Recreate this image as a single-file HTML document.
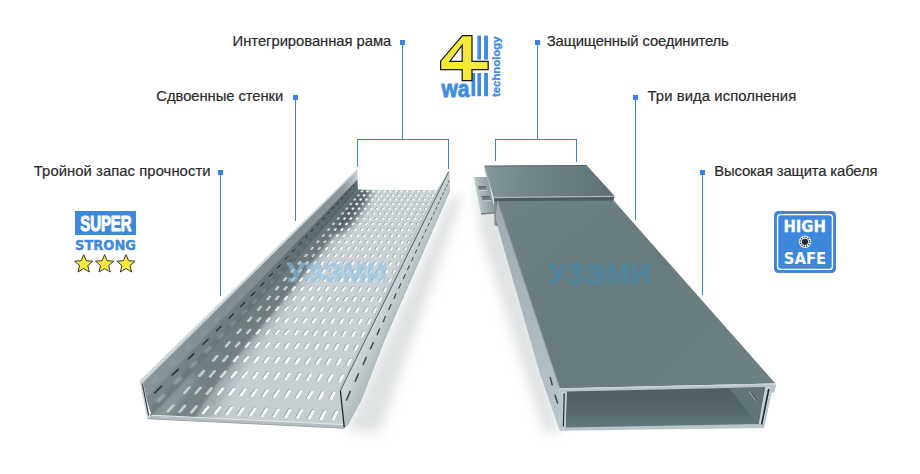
<!DOCTYPE html>
<html lang="ru"><head><meta charset="utf-8"><title>4 wall technology</title>
<style>html,body{margin:0;padding:0;background:#fff}body{width:920px;height:474px;overflow:hidden}svg{display:block}</style>
</head><body>
<svg width="920" height="474" viewBox="0 0 920 474">
<defs>
<filter id="b1" x="-50%" y="-50%" width="200%" height="200%"><feGaussianBlur stdDeviation="0.8"/></filter>
<filter id="b2" x="-50%" y="-50%" width="200%" height="200%"><feGaussianBlur stdDeviation="1.8"/></filter>
<filter id="b3" x="-50%" y="-50%" width="200%" height="200%"><feGaussianBlur stdDeviation="3"/></filter>
<filter id="b6" x="-50%" y="-50%" width="200%" height="200%"><feGaussianBlur stdDeviation="6"/></filter>
<filter id="b10" x="-50%" y="-50%" width="200%" height="200%"><feGaussianBlur stdDeviation="9"/></filter>
<linearGradient id="gFloor" x1="400" y1="190" x2="250" y2="420" gradientUnits="userSpaceOnUse">
 <stop offset="0" stop-color="#cbd3d6"/><stop offset="1" stop-color="#c5cdd1"/></linearGradient>
<linearGradient id="gSh" x1="358" y1="190" x2="180" y2="420" gradientUnits="userSpaceOnUse">
 <stop offset="0" stop-color="#596769"/><stop offset=".5" stop-color="#657275"/><stop offset="1" stop-color="#707d80"/></linearGradient>
<linearGradient id="gLW" x1="357" y1="180" x2="146" y2="398" gradientUnits="userSpaceOnUse">
 <stop offset="0" stop-color="#6f7c7f"/><stop offset=".45" stop-color="#87949700"/><stop offset="1" stop-color="#a3adb0"/></linearGradient>
<linearGradient id="gLWbase" x1="358" y1="0" x2="141" y2="0" gradientUnits="userSpaceOnUse">
 <stop offset="0" stop-color="#cdd4d7"/><stop offset=".025" stop-color="#b0babd"/><stop offset=".07" stop-color="#8d999c"/><stop offset=".25" stop-color="#7f8c8f"/><stop offset=".45" stop-color="#808d90"/><stop offset=".7" stop-color="#838f92"/><stop offset="1" stop-color="#889497"/></linearGradient>
<linearGradient id="gLWlow" x1="358" y1="0" x2="146" y2="0" gradientUnits="userSpaceOnUse">
 <stop offset="0" stop-color="#37454a" stop-opacity=".7"/><stop offset=".25" stop-color="#37454a" stop-opacity=".42"/><stop offset=".6" stop-color="#3d4a4d" stop-opacity=".24"/><stop offset="1" stop-color="#3d4a4d" stop-opacity=".18"/></linearGradient>
<linearGradient id="gRW" x1="395" y1="280" x2="408" y2="286" gradientUnits="userSpaceOnUse">
 <stop offset="0" stop-color="#cdd5d8"/><stop offset="1" stop-color="#b6c0c3"/></linearGradient>
<linearGradient id="gCover" x1="500" y1="200" x2="700" y2="420" gradientUnits="userSpaceOnUse">
 <stop offset="0" stop-color="#6e8184"/><stop offset=".5" stop-color="#687b7d"/><stop offset="1" stop-color="#6d8183"/></linearGradient>
<linearGradient id="gConn" x1="485" y1="170" x2="610" y2="195" gradientUnits="userSpaceOnUse">
 <stop offset="0" stop-color="#869a9c"/><stop offset=".3" stop-color="#74888a"/><stop offset=".65" stop-color="#697c7e"/><stop offset="1" stop-color="#5d7072"/></linearGradient>
<linearGradient id="gBr" x1="476" y1="195" x2="493" y2="192" gradientUnits="userSpaceOnUse">
 <stop offset="0" stop-color="#c6ced1"/><stop offset=".35" stop-color="#a9b4b7"/><stop offset="1" stop-color="#8a9699"/></linearGradient>
<linearGradient id="gSide" x1="0" y1="200" x2="0" y2="430" gradientUnits="userSpaceOnUse">
 <stop offset="0" stop-color="#9eaaad"/><stop offset="1" stop-color="#b9c5c9"/></linearGradient>
<linearGradient id="gInt" x1="0" y1="390" x2="0" y2="427" gradientUnits="userSpaceOnUse">
 <stop offset="0" stop-color="#4e6062"/><stop offset=".45" stop-color="#536567"/><stop offset=".8" stop-color="#5d7072"/><stop offset="1" stop-color="#627577"/></linearGradient>
<clipPath id="cFloor"><polygon points="356.0,189.8 436.7,190.3 337.2,391.5 340.4,390.5 343.9,424.6 149.6,415.2 256.0,303.0"/></clipPath>
<clipPath id="cLW"><polygon points="140.6,381.3 357.4,169.6 358.0,189.8 258.0,303.0 151.6,415.2"/></clipPath>
</defs>

<!-- ground shadows -->
<g opacity=".42">
<polygon points="452.0,193.0 462.0,198.0 380.0,432.0 347.0,430.0" fill="#b4b9bb" filter="url(#b6)"/>
<polygon points="476.0,182.0 496.0,200.0 560.0,432.0 544.0,432.0 480.0,232.0" fill="#b4b9bb" filter="url(#b6)"/>
</g>

<!-- LEFT TRAY -->
<polygon points="356.0,189.8 436.7,190.3 337.2,391.5 340.4,390.5 343.9,424.6 149.6,415.2 256.0,303.0" fill="url(#gFloor)"/>
<g clip-path="url(#cFloor)">
 <polygon points="356.0,186.0 366.0,189.0 347.0,222.0 321.0,256.0 290.0,296.0 262.0,335.0 242.0,364.0 226.0,390.0 212.0,420.0 130.0,432.0 250.0,300.0" fill="url(#gSh)" filter="url(#b6)" opacity=".45"/>
 <polygon points="356.0,186.0 363.0,189.0 342.0,225.0 326.0,244.0 300.0,278.0 275.0,310.0 252.0,337.0 235.0,359.0 217.0,383.0 203.0,404.0 194.0,420.0 130.0,432.0 250.0,300.0" fill="url(#gSh)" filter="url(#b2)"/>
 <polygon points="150.0,417.0 190.0,374.0 198.0,378.0 166.0,421.0" fill="#c3cbce" filter="url(#b3)" opacity=".45"/>
<polygon points="354.0,186.0 372.0,189.0 366.0,205.0 352.0,225.0 338.0,235.0 330.0,225.0" fill="#4b595d" filter="url(#b3)" opacity=".85"/>
<path d="M361.3 190.5L362.0 190.5L361.3 191.3L360.6 191.3ZM366.9 190.5L367.6 190.5L366.9 191.3L366.2 191.3ZM372.5 190.5L373.1 190.5L372.5 191.3L371.8 191.3ZM378.1 190.5L378.7 190.5L378.1 191.3L377.4 191.3ZM383.7 190.5L384.3 190.5L383.7 191.3L383.0 191.3ZM389.3 190.5L389.9 190.5L389.3 191.3L388.7 191.3ZM394.9 190.5L395.5 190.5L394.9 191.3L394.3 191.3ZM400.5 190.5L401.1 190.5L400.5 191.3L399.9 191.3ZM406.1 190.5L406.7 190.5L406.2 191.3L405.5 191.3ZM411.7 190.5L412.3 190.5L411.8 191.3L411.1 191.3ZM417.2 190.5L417.9 190.5L417.4 191.3L416.7 191.3ZM422.8 190.4L423.5 190.4L423.0 191.4L422.3 191.4ZM428.4 190.4L429.1 190.4L428.6 191.4L427.9 191.4ZM434.0 190.4L434.7 190.4L434.2 191.4L433.6 191.4ZM357.8 194.5L358.5 194.5L357.8 195.3L357.1 195.3ZM363.5 194.5L364.2 194.5L363.5 195.3L362.8 195.3ZM369.2 194.5L369.9 194.5L369.2 195.3L368.6 195.3ZM374.9 194.5L375.6 194.5L374.9 195.3L374.3 195.3ZM380.6 194.5L381.3 194.5L380.7 195.3L380.0 195.3ZM386.3 194.5L387.0 194.5L386.4 195.4L385.7 195.4ZM392.0 194.5L392.7 194.5L392.1 195.4L391.4 195.4ZM397.7 194.5L398.4 194.5L397.8 195.4L397.2 195.4ZM403.4 194.5L404.1 194.5L403.6 195.4L402.9 195.4ZM409.2 194.5L409.8 194.5L409.3 195.4L408.6 195.4ZM414.9 194.5L415.5 194.5L415.0 195.4L414.3 195.4ZM420.6 194.5L421.2 194.5L420.7 195.4L420.1 195.4ZM426.3 194.5L426.9 194.5L426.5 195.4L425.8 195.4ZM432.0 194.5L432.7 194.5L432.2 195.4L431.5 195.4ZM354.1 198.7L354.8 198.7L354.1 199.6L353.4 199.6ZM360.0 198.7L360.6 198.7L359.9 199.6L359.3 199.6ZM365.8 198.7L366.5 198.7L365.8 199.6L365.1 199.6ZM371.6 198.7L372.3 198.7L371.6 199.6L370.9 199.6ZM377.4 198.7L378.1 198.7L377.4 199.6L376.8 199.6ZM383.3 198.7L383.9 198.7L383.3 199.6L382.6 199.6ZM389.1 198.7L389.8 198.7L389.1 199.6L388.5 199.6ZM394.9 198.7L395.6 198.7L395.0 199.6L394.3 199.6ZM400.7 198.7L401.4 198.7L400.8 199.6L400.1 199.6ZM406.6 198.7L407.2 198.7L406.7 199.6L406.0 199.6ZM412.4 198.7L413.1 198.7L412.5 199.6L411.8 199.6ZM418.2 198.7L418.9 198.7L418.3 199.7L417.7 199.7ZM424.0 198.7L424.7 198.7L424.2 199.7L423.5 199.7ZM429.9 198.7L430.5 198.7L430.0 199.7L429.4 199.7ZM350.3 203.1L351.0 203.1L350.2 204.0L349.5 204.0ZM356.3 203.1L357.0 203.1L356.2 204.0L355.5 204.0ZM362.2 203.1L362.9 203.1L362.2 204.0L361.5 204.0ZM368.2 203.1L368.9 203.1L368.1 204.0L367.4 204.0ZM374.1 203.1L374.8 203.1L374.1 204.1L373.4 204.1ZM380.1 203.1L380.8 203.1L380.0 204.1L379.4 204.1ZM386.0 203.1L386.7 203.1L386.0 204.1L385.3 204.1ZM392.0 203.1L392.7 203.1L392.0 204.1L391.3 204.1ZM397.9 203.1L398.6 203.1L397.9 204.1L397.3 204.1ZM403.9 203.1L404.5 203.1L403.9 204.1L403.2 204.1ZM409.8 203.1L410.5 203.1L409.9 204.1L409.2 204.1ZM415.7 203.1L416.4 203.1L415.8 204.1L415.2 204.1ZM421.7 203.1L422.4 203.1L421.8 204.1L421.1 204.1ZM427.6 203.1L428.3 203.1L427.8 204.1L427.1 204.1ZM346.3 207.7L347.0 207.7L346.2 208.7L345.5 208.7ZM352.4 207.7L353.1 207.7L352.3 208.7L351.6 208.7ZM358.5 207.7L359.2 207.7L358.4 208.7L357.7 208.7ZM364.6 207.7L365.3 207.7L364.4 208.7L363.8 208.7ZM370.6 207.7L371.3 207.7L370.5 208.7L369.9 208.7ZM376.7 207.7L377.4 207.7L376.6 208.7L375.9 208.7ZM382.8 207.7L383.5 207.7L382.7 208.8L382.0 208.8ZM388.9 207.7L389.6 207.7L388.8 208.8L388.1 208.8ZM394.9 207.7L395.6 207.7L394.9 208.8L394.2 208.8ZM401.0 207.7L401.7 207.7L401.0 208.8L400.3 208.8ZM407.1 207.7L407.8 207.7L407.1 208.8L406.4 208.8ZM413.2 207.7L413.9 207.7L413.2 208.8L412.5 208.8ZM419.2 207.7L419.9 207.7L419.3 208.8L418.6 208.8ZM425.3 207.7L426.0 207.7L425.4 208.8L424.7 208.8ZM342.2 212.5L342.9 212.5L341.9 213.6L341.2 213.6ZM348.4 212.5L349.1 212.5L348.1 213.6L347.4 213.6ZM354.6 212.5L355.3 212.5L354.4 213.6L353.7 213.6ZM360.8 212.5L361.5 212.5L360.6 213.6L359.9 213.6ZM367.0 212.5L367.7 212.5L366.8 213.6L366.1 213.6ZM373.2 212.5L373.9 212.5L373.1 213.7L372.4 213.7ZM379.4 212.5L380.1 212.5L379.3 213.7L378.6 213.7ZM385.6 212.5L386.3 212.5L385.5 213.7L384.8 213.7ZM391.8 212.5L392.5 212.5L391.8 213.7L391.1 213.7ZM398.0 212.5L398.7 212.5L398.0 213.7L397.3 213.7ZM404.2 212.5L404.9 212.5L404.2 213.7L403.5 213.7ZM410.5 212.5L411.2 212.5L410.5 213.8L409.8 213.7ZM416.7 212.5L417.4 212.5L416.7 213.8L416.0 213.8ZM422.9 212.5L423.6 212.5L422.9 213.8L422.2 213.8ZM337.8 217.5L338.5 217.5L337.4 218.7L336.7 218.7ZM344.1 217.5L344.8 217.5L343.8 218.7L343.1 218.7ZM350.5 217.5L351.2 217.5L350.2 218.7L349.5 218.7ZM356.8 217.5L357.5 217.5L356.6 218.8L355.8 218.8ZM363.2 217.5L363.9 217.5L362.9 218.8L362.2 218.8ZM369.5 217.6L370.2 217.6L369.3 218.8L368.6 218.8ZM375.9 217.6L376.6 217.6L375.7 218.8L375.0 218.8ZM382.2 217.6L382.9 217.6L382.0 218.9L381.3 218.9ZM388.6 217.6L389.3 217.6L388.4 218.9L387.7 218.9ZM394.9 217.6L395.6 217.6L394.8 218.9L394.1 218.9ZM401.3 217.6L402.0 217.6L401.2 218.9L400.5 218.9ZM407.6 217.6L408.3 217.6L407.5 218.9L406.8 218.9ZM414.0 217.6L414.7 217.6L413.9 219.0L413.2 219.0ZM420.3 217.6L421.0 217.6L420.3 219.0L419.6 219.0ZM333.1 222.8L333.8 222.8L332.7 224.1L332.0 224.1ZM339.6 222.8L340.3 222.8L339.3 224.1L338.5 224.1ZM346.1 222.8L346.8 222.9L345.8 224.2L345.1 224.2ZM352.6 222.9L353.3 222.9L352.3 224.2L351.6 224.2ZM359.1 222.9L359.8 222.9L358.8 224.2L358.1 224.2ZM365.6 222.9L366.3 222.9L365.3 224.2L364.6 224.2ZM372.1 222.9L372.8 222.9L371.9 224.3L371.2 224.3ZM378.6 222.9L379.3 222.9L378.4 224.3L377.7 224.3ZM385.1 222.9L385.8 222.9L384.9 224.3L384.2 224.3ZM391.6 222.9L392.3 222.9L391.4 224.3L390.7 224.3ZM398.1 222.9L398.8 222.9L398.0 224.4L397.3 224.4ZM404.6 222.9L405.3 222.9L404.5 224.4L403.8 224.4ZM411.1 222.9L411.8 222.9L411.0 224.4L410.3 224.4ZM417.6 222.9L418.3 222.9L417.6 224.4L416.8 224.4ZM328.2 228.4L329.0 228.4L327.8 229.8L327.0 229.8ZM334.9 228.4L335.6 228.4L334.4 229.8L333.7 229.8ZM341.6 228.4L342.3 228.4L341.1 229.9L340.4 229.9ZM348.2 228.5L348.9 228.5L347.8 229.9L347.1 229.9ZM354.9 228.5L355.6 228.5L354.5 229.9L353.8 229.9ZM361.5 228.5L362.3 228.5L361.2 230.0L360.4 230.0ZM368.2 228.5L368.9 228.5L367.9 230.0L367.1 230.0ZM374.8 228.5L375.6 228.5L374.5 230.0L373.8 230.0ZM381.5 228.5L382.2 228.5L381.2 230.1L380.5 230.1ZM388.1 228.5L388.9 228.5L387.9 230.1L387.2 230.1ZM394.8 228.5L395.5 228.5L394.6 230.1L393.9 230.1ZM401.4 228.6L402.2 228.6L401.3 230.1L400.6 230.1ZM408.1 228.6L408.8 228.6L408.0 230.2L407.2 230.2ZM414.8 228.6L415.5 228.6L414.7 230.2L413.9 230.2ZM323.1 234.3L323.8 234.3L322.5 235.8L321.8 235.8ZM329.9 234.3L330.7 234.3L329.4 235.8L328.6 235.8ZM336.7 234.3L337.5 234.3L336.2 235.9L335.5 235.9ZM343.6 234.4L344.3 234.4L343.1 235.9L342.3 235.9ZM350.4 234.4L351.1 234.4L349.9 236.0L349.2 236.0ZM357.2 234.4L357.9 234.4L356.8 236.0L356.0 236.0ZM364.0 234.4L364.8 234.4L363.6 236.0L362.9 236.0ZM370.8 234.4L371.6 234.4L370.5 236.1L369.7 236.1ZM377.7 234.4L378.4 234.4L377.3 236.1L376.6 236.1ZM384.5 234.5L385.2 234.5L384.2 236.2L383.4 236.1ZM391.3 234.5L392.0 234.5L391.0 236.2L390.3 236.2ZM398.1 234.5L398.9 234.5L397.9 236.2L397.1 236.2ZM404.9 234.5L405.7 234.5L404.7 236.3L404.0 236.3ZM411.8 234.5L412.5 234.5L411.6 236.3L410.9 236.3ZM317.7 240.5L318.4 240.5L317.0 242.2L316.2 242.1ZM324.7 240.5L325.4 240.5L324.0 242.2L323.3 242.2ZM331.7 240.6L332.4 240.6L331.0 242.2L330.3 242.2ZM338.7 240.6L339.4 240.6L338.1 242.3L337.3 242.3ZM345.6 240.6L346.4 240.6L345.1 242.3L344.3 242.3ZM352.6 240.6L353.4 240.6L352.1 242.4L351.4 242.4ZM359.6 240.7L360.4 240.7L359.1 242.4L358.4 242.4ZM366.6 240.7L367.4 240.7L366.2 242.5L365.4 242.5ZM373.6 240.7L374.4 240.7L373.2 242.5L372.5 242.5ZM380.6 240.7L381.4 240.7L380.2 242.6L379.5 242.6ZM387.6 240.8L388.4 240.8L387.3 242.6L386.5 242.6ZM394.6 240.8L395.3 240.8L394.3 242.7L393.5 242.7ZM401.6 240.8L402.3 240.8L401.3 242.7L400.6 242.7ZM408.6 240.8L409.3 240.8L408.4 242.7L407.6 242.7ZM311.9 247.1L312.7 247.1L311.1 248.9L310.4 248.9ZM319.1 247.1L319.8 247.1L318.3 248.9L317.6 248.9ZM326.3 247.1L327.0 247.2L325.6 249.0L324.8 249.0ZM333.5 247.2L334.2 247.2L332.8 249.0L332.0 249.0ZM340.6 247.2L341.4 247.2L340.0 249.1L339.2 249.1ZM347.8 247.2L348.6 247.2L347.2 249.1L346.4 249.1ZM355.0 247.3L355.7 247.3L354.4 249.2L353.6 249.2ZM362.2 247.3L362.9 247.3L361.6 249.2L360.9 249.2ZM369.3 247.3L370.1 247.3L368.8 249.3L368.1 249.3ZM376.5 247.4L377.3 247.4L376.1 249.4L375.3 249.4ZM383.7 247.4L384.5 247.4L383.3 249.4L382.5 249.4ZM390.9 247.4L391.6 247.4L390.5 249.5L389.7 249.5ZM398.1 247.5L398.8 247.5L397.7 249.5L396.9 249.5ZM405.2 247.5L406.0 247.5L404.9 249.6L404.2 249.6ZM305.8 254.0L306.6 254.0L304.9 256.0L304.1 256.0ZM313.2 254.1L314.0 254.1L312.3 256.0L311.6 256.0ZM320.6 254.1L321.3 254.1L319.7 256.1L319.0 256.1ZM327.9 254.2L328.7 254.2L327.1 256.2L326.4 256.2ZM335.3 254.2L336.1 254.2L334.6 256.2L333.8 256.2ZM342.7 254.2L343.5 254.2L342.0 256.3L341.2 256.3ZM350.1 254.3L350.8 254.3L349.4 256.4L348.6 256.4ZM357.4 254.3L358.2 254.3L356.8 256.4L356.0 256.4ZM364.8 254.4L365.6 254.4L364.2 256.5L363.4 256.5ZM372.2 254.4L373.0 254.4L371.6 256.6L370.9 256.6ZM379.6 254.4L380.3 254.4L379.0 256.6L378.3 256.6ZM386.9 254.5L387.7 254.5L386.5 256.7L385.7 256.7ZM394.3 254.5L395.1 254.5L393.9 256.8L393.1 256.8ZM401.7 254.6L402.4 254.6L401.3 256.8L400.5 256.8Z" fill="#8d999c" stroke="#8d999c" stroke-width="1.65" stroke-linejoin="round" opacity=".7"/>
<path d="M299.3 261.4L300.1 261.4L298.3 263.5L297.5 263.5ZM306.9 261.5L307.7 261.5L305.9 263.6L305.1 263.6ZM314.5 261.5L315.3 261.5L313.5 263.7L312.8 263.7ZM322.1 261.6L322.9 261.6L321.2 263.7L320.4 263.7ZM329.7 261.6L330.5 261.6L328.8 263.8L328.0 263.8ZM337.3 261.7L338.0 261.7L336.4 263.9L335.6 263.9ZM344.8 261.7L345.6 261.7L344.0 264.0L343.3 264.0ZM352.4 261.8L353.2 261.8L351.7 264.1L350.9 264.1ZM360.0 261.8L360.8 261.8L359.3 264.1L358.5 264.1ZM367.6 261.9L368.4 261.9L366.9 264.2L366.1 264.2ZM375.2 261.9L375.9 261.9L374.5 264.3L373.8 264.3ZM382.7 262.0L383.5 262.0L382.2 264.4L381.4 264.4ZM390.3 262.0L391.1 262.0L389.8 264.5L389.0 264.4ZM397.9 262.1L398.7 262.1L397.4 264.5L396.6 264.5ZM292.4 269.3L293.2 269.3L291.3 271.5L290.5 271.5ZM300.3 269.3L301.0 269.3L299.1 271.6L298.3 271.6ZM308.1 269.4L308.9 269.4L307.0 271.7L306.2 271.7ZM315.9 269.4L316.7 269.4L314.8 271.8L314.0 271.8ZM323.7 269.5L324.5 269.5L322.7 271.9L321.9 271.9ZM331.5 269.6L332.3 269.6L330.5 272.0L329.7 272.0ZM339.3 269.6L340.1 269.6L338.3 272.1L337.6 272.1ZM347.1 269.7L347.9 269.7L346.2 272.2L345.4 272.2ZM354.9 269.7L355.7 269.8L354.0 272.3L353.3 272.3ZM362.7 269.8L363.5 269.8L361.9 272.4L361.1 272.4ZM370.5 269.9L371.3 269.9L369.8 272.5L369.0 272.5ZM378.3 269.9L379.1 269.9L377.6 272.6L376.8 272.6ZM386.1 270.0L386.9 270.0L385.5 272.7L384.7 272.6ZM393.9 270.1L394.7 270.1L393.3 272.7L392.5 272.7ZM285.1 277.6L285.9 277.6L283.8 280.1L283.0 280.1ZM293.2 277.7L294.0 277.7L291.9 280.2L291.0 280.2ZM301.2 277.8L302.0 277.8L299.9 280.3L299.1 280.3ZM309.2 277.8L310.0 277.8L308.0 280.4L307.2 280.4ZM317.3 277.9L318.1 277.9L316.1 280.5L315.3 280.5ZM325.3 278.0L326.1 278.0L324.2 280.6L323.4 280.6ZM333.4 278.1L334.2 278.1L332.3 280.7L331.5 280.7ZM341.4 278.1L342.2 278.1L340.4 280.9L339.6 280.8ZM349.4 278.2L350.2 278.2L348.5 281.0L347.7 281.0ZM357.5 278.3L358.3 278.3L356.6 281.1L355.8 281.1ZM365.5 278.4L366.3 278.4L364.6 281.2L363.8 281.2ZM373.5 278.4L374.3 278.4L372.7 281.3L371.9 281.3ZM381.6 278.5L382.4 278.5L380.8 281.4L380.0 281.4ZM389.6 278.6L390.4 278.6L388.9 281.5L388.1 281.5ZM277.3 286.5L278.1 286.5L275.8 289.2L274.9 289.2ZM285.6 286.6L286.4 286.6L284.1 289.3L283.3 289.3ZM293.9 286.7L294.7 286.7L292.4 289.5L291.6 289.5ZM302.2 286.8L303.0 286.8L300.8 289.6L300.0 289.6ZM310.4 286.9L311.3 286.9L309.1 289.7L308.3 289.7ZM318.7 287.0L319.6 287.0L317.5 289.9L316.6 289.8ZM327.0 287.1L327.9 287.1L325.8 290.0L325.0 290.0ZM335.3 287.1L336.1 287.2L334.1 290.1L333.3 290.1ZM343.6 287.2L344.4 287.2L342.5 290.2L341.7 290.2ZM351.9 287.3L352.7 287.3L350.8 290.4L350.0 290.4ZM360.2 287.4L361.0 287.4L359.2 290.5L358.4 290.5ZM368.5 287.5L369.3 287.5L367.5 290.6L366.7 290.6ZM376.8 287.6L377.6 287.6L375.9 290.8L375.1 290.8ZM385.0 287.7L385.9 287.7L384.2 290.9L383.4 290.9ZM268.9 296.0L269.7 296.0L267.2 299.0L266.3 299.0ZM277.4 296.1L278.3 296.1L275.8 299.1L274.9 299.1ZM286.0 296.2L286.8 296.3L284.4 299.3L283.6 299.3ZM294.6 296.4L295.4 296.4L293.0 299.4L292.2 299.4ZM303.1 296.5L304.0 296.5L301.6 299.6L300.8 299.6ZM311.7 296.6L312.5 296.6L310.2 299.7L309.4 299.7ZM320.3 296.7L321.1 296.7L318.9 299.9L318.0 299.9ZM328.8 296.8L329.7 296.8L327.5 300.0L326.6 300.0ZM337.4 296.9L338.2 296.9L336.1 300.2L335.3 300.2ZM345.9 297.0L346.8 297.0L344.7 300.3L343.9 300.3ZM354.5 297.1L355.3 297.1L353.3 300.5L352.5 300.5ZM363.0 297.2L363.9 297.3L362.0 300.7L361.1 300.6ZM371.6 297.3L372.4 297.4L370.6 300.8L369.8 300.8ZM380.1 297.5L381.0 297.5L379.2 301.0L378.4 300.9ZM259.9 306.2L260.7 306.2L257.9 309.4L257.1 309.4ZM268.7 306.3L269.6 306.4L266.8 309.6L266.0 309.6ZM277.6 306.5L278.4 306.5L275.8 309.8L274.9 309.8ZM286.4 306.6L287.3 306.6L284.7 310.0L283.8 310.0ZM295.3 306.7L296.1 306.8L293.6 310.2L292.7 310.1ZM304.1 306.9L305.0 306.9L302.5 310.3L301.6 310.3ZM313.0 307.0L313.8 307.0L311.4 310.5L310.5 310.5ZM321.8 307.1L322.7 307.2L320.3 310.7L319.5 310.7ZM330.7 307.3L331.5 307.3L329.2 310.9L328.4 310.9ZM339.5 307.4L340.4 307.4L338.1 311.1L337.3 311.0ZM348.4 307.5L349.2 307.6L347.1 311.2L346.2 311.2ZM357.2 307.7L358.1 307.7L356.0 311.4L355.1 311.4ZM366.1 307.8L366.9 307.8L364.9 311.6L364.1 311.6ZM374.9 308.0L375.8 308.0L373.8 311.8L373.0 311.8ZM250.2 317.2L251.1 317.2L248.0 320.7L247.1 320.7ZM259.4 317.3L260.2 317.3L257.2 320.9L256.4 320.9ZM268.5 317.5L269.4 317.5L266.5 321.1L265.6 321.1ZM277.7 317.6L278.6 317.7L275.7 321.3L274.8 321.3ZM286.9 317.8L287.7 317.8L284.9 321.5L284.0 321.5ZM296.0 318.0L296.9 318.0L294.1 321.8L293.3 321.7ZM305.2 318.1L306.0 318.1L303.4 322.0L302.5 322.0ZM314.3 318.3L315.2 318.3L312.6 322.2L311.7 322.2ZM323.5 318.4L324.4 318.5L321.8 322.4L321.0 322.4ZM332.7 318.6L333.5 318.6L331.1 322.6L330.2 322.6ZM341.8 318.8L342.7 318.8L340.3 322.8L339.4 322.8ZM351.0 318.9L351.8 318.9L349.5 323.0L348.7 323.0ZM360.1 319.1L361.0 319.1L358.8 323.2L357.9 323.2ZM369.3 319.3L370.1 319.3L368.0 323.4L367.1 323.4ZM239.8 328.9L240.6 329.0L237.3 332.8L236.4 332.8ZM249.3 329.1L250.1 329.2L246.8 333.1L246.0 333.1ZM258.8 329.3L259.6 329.4L256.4 333.3L255.5 333.3ZM268.3 329.5L269.1 329.5L266.0 333.6L265.1 333.6ZM277.8 329.7L278.6 329.7L275.5 333.8L274.7 333.8ZM287.3 329.9L288.1 329.9L285.1 334.1L284.2 334.1ZM296.7 330.1L297.6 330.1L294.7 334.3L293.8 334.3ZM306.2 330.3L307.1 330.3L304.3 334.6L303.4 334.6ZM315.7 330.5L316.6 330.5L313.8 334.8L313.0 334.8ZM325.2 330.7L326.1 330.7L323.4 335.1L322.5 335.1ZM334.7 330.9L335.6 330.9L333.0 335.3L332.1 335.3ZM344.2 331.1L345.1 331.1L342.6 335.6L341.7 335.5ZM353.7 331.3L354.6 331.3L352.2 335.8L351.3 335.8ZM363.2 331.5L364.1 331.5L361.7 336.1L360.9 336.0ZM228.5 341.7L229.4 341.7L225.7 346.0L224.8 345.9ZM238.3 341.9L239.2 341.9L235.6 346.3L234.7 346.2ZM248.2 342.1L249.1 342.2L245.5 346.5L244.6 346.5ZM258.0 342.4L259.0 342.4L255.5 346.8L254.6 346.8ZM267.9 342.6L268.8 342.6L265.4 347.1L264.5 347.1ZM277.8 342.8L278.7 342.9L275.4 347.4L274.4 347.4ZM287.6 343.1L288.5 343.1L285.3 347.7L284.4 347.7ZM297.5 343.3L298.4 343.3L295.2 348.0L294.3 348.0ZM307.3 343.5L308.2 343.5L305.2 348.3L304.3 348.3ZM317.2 343.8L318.1 343.8L315.1 348.6L314.2 348.6ZM327.0 344.0L328.0 344.0L325.1 348.9L324.2 348.9ZM336.9 344.2L337.8 344.2L335.0 349.2L334.1 349.1ZM346.7 344.5L347.7 344.5L345.0 349.5L344.1 349.4ZM356.6 344.7L357.5 344.7L354.9 349.8L354.0 349.7Z" fill="#8d999c" stroke="#8d999c" stroke-width="1.90" stroke-linejoin="round" opacity=".7"/>
<path d="M216.2 355.5L217.1 355.5L213.0 360.2L212.1 360.2ZM226.4 355.7L227.4 355.8L223.4 360.5L222.4 360.5ZM236.7 356.0L237.6 356.0L233.7 360.9L232.8 360.9ZM247.0 356.3L247.9 356.3L244.1 361.2L243.1 361.2ZM257.2 356.6L258.2 356.6L254.4 361.6L253.5 361.5ZM267.5 356.8L268.4 356.9L264.7 361.9L263.8 361.9ZM277.7 357.1L278.7 357.1L275.1 362.3L274.2 362.2ZM288.0 357.4L288.9 357.4L285.4 362.6L284.5 362.6ZM298.2 357.7L299.2 357.7L295.8 362.9L294.8 362.9ZM308.5 358.0L309.4 358.0L306.1 363.3L305.2 363.3ZM318.7 358.2L319.7 358.3L316.5 363.6L315.6 363.6ZM329.0 358.5L329.9 358.5L326.8 364.0L325.9 363.9ZM339.2 358.8L340.1 358.8L337.2 364.3L336.3 364.3ZM349.4 359.1L350.4 359.1L347.6 364.7L346.6 364.6ZM202.8 370.4L203.8 370.5L199.3 375.7L198.3 375.6ZM213.5 370.8L214.5 370.8L210.0 376.1L209.1 376.0ZM224.2 371.1L225.2 371.1L220.8 376.5L219.9 376.5ZM234.9 371.4L235.9 371.5L231.6 376.9L230.6 376.9ZM245.6 371.8L246.5 371.8L242.4 377.3L241.4 377.3ZM256.3 372.1L257.2 372.1L253.2 377.7L252.2 377.7ZM266.9 372.4L267.9 372.5L263.9 378.1L263.0 378.1ZM277.6 372.8L278.6 372.8L274.7 378.5L273.8 378.5ZM288.3 373.1L289.3 373.1L285.5 378.9L284.6 378.9ZM299.0 373.4L299.9 373.5L296.3 379.3L295.4 379.3ZM309.7 373.8L310.6 373.8L307.1 379.7L306.1 379.7ZM320.3 374.1L321.3 374.1L317.9 380.1L316.9 380.1ZM331.0 374.4L332.0 374.5L328.7 380.6L327.7 380.5ZM341.7 374.8L342.6 374.8L339.5 381.0L338.5 380.9ZM188.2 386.8L189.2 386.8L184.2 392.6L183.2 392.5ZM199.4 387.2L200.4 387.2L195.4 393.1L194.5 393.0ZM210.5 387.6L211.5 387.6L206.7 393.5L205.7 393.5ZM221.7 388.0L222.7 388.0L218.0 394.0L217.0 394.0ZM232.9 388.4L233.8 388.4L229.2 394.5L228.2 394.5ZM244.0 388.8L245.0 388.8L240.5 395.0L239.5 395.0ZM255.2 389.2L256.1 389.2L251.7 395.5L250.8 395.4ZM266.3 389.6L267.3 389.6L263.0 396.0L262.0 395.9ZM277.5 390.0L278.4 390.0L274.3 396.4L273.3 396.4ZM288.6 390.4L289.6 390.4L285.6 396.9L284.6 396.9ZM299.7 390.8L300.7 390.8L296.8 397.4L295.8 397.4ZM310.9 391.2L311.9 391.2L308.1 397.9L307.1 397.8ZM322.0 391.6L323.0 391.6L319.4 398.4L318.4 398.3ZM333.2 392.0L334.1 392.0L330.7 398.8L329.7 398.8ZM172.2 404.6L173.2 404.7L167.6 411.1L166.6 411.1ZM183.9 405.1L184.9 405.1L179.4 411.7L178.4 411.6ZM195.5 405.6L196.5 405.6L191.2 412.3L190.1 412.2ZM207.2 406.1L208.2 406.1L202.9 412.8L201.9 412.8ZM218.9 406.5L219.9 406.6L214.7 413.4L213.7 413.4ZM230.5 407.0L231.6 407.1L226.5 414.0L225.5 413.9ZM242.2 407.5L243.2 407.6L238.3 414.6L237.3 414.5ZM253.9 408.0L254.9 408.0L250.1 415.1L249.1 415.1ZM265.5 408.5L266.6 408.5L261.9 415.7L260.9 415.7ZM277.2 409.0L278.2 409.0L273.7 416.3L272.7 416.2ZM288.9 409.4L289.9 409.5L285.5 416.8L284.5 416.8ZM300.5 409.9L301.5 410.0L297.3 417.4L296.3 417.4ZM312.2 410.4L313.2 410.5L309.2 418.0L308.1 417.9ZM323.8 410.9L324.8 410.9L321.0 418.6L320.0 418.5ZM335.5 411.4L336.5 411.4L332.8 419.1L331.8 419.1Z" fill="#8d999c" stroke="#8d999c" stroke-width="2.15" stroke-linejoin="round" opacity=".7"/>
<path d="M362.0 191.0L362.7 191.0L362.0 191.7L361.3 191.7ZM367.6 191.0L368.3 191.0L367.6 191.7L366.9 191.7ZM373.2 190.9L373.8 190.9L373.2 191.8L372.5 191.8ZM378.8 190.9L379.4 190.9L378.8 191.8L378.1 191.8ZM384.4 190.9L385.0 190.9L384.4 191.8L383.7 191.8ZM390.0 190.9L390.6 190.9L390.0 191.8L389.4 191.8ZM395.6 190.9L396.2 190.9L395.6 191.8L395.0 191.8ZM401.2 190.9L401.8 190.9L401.2 191.8L400.6 191.8ZM406.8 190.9L407.4 190.9L406.9 191.8L406.2 191.8ZM412.4 190.9L413.0 190.9L412.5 191.8L411.8 191.8ZM417.9 190.9L418.6 190.9L418.1 191.8L417.4 191.8ZM423.5 190.9L424.2 190.9L423.7 191.8L423.0 191.8ZM429.1 190.9L429.8 190.9L429.3 191.8L428.6 191.8ZM434.7 190.9L435.4 190.9L434.9 191.8L434.3 191.8ZM358.5 195.0L359.2 195.0L358.5 195.8L357.8 195.8ZM364.2 195.0L364.9 195.0L364.2 195.8L363.5 195.8ZM369.9 195.0L370.6 195.0L369.9 195.8L369.3 195.8ZM375.6 195.0L376.3 195.0L375.6 195.8L375.0 195.8ZM381.3 195.0L382.0 195.0L381.4 195.8L380.7 195.8ZM387.0 195.0L387.7 195.0L387.1 195.8L386.4 195.8ZM392.7 195.0L393.4 195.0L392.8 195.8L392.1 195.8ZM398.4 195.0L399.1 195.0L398.5 195.8L397.9 195.8ZM404.1 195.0L404.8 195.0L404.3 195.8L403.6 195.8ZM409.9 195.0L410.5 195.0L410.0 195.8L409.3 195.8ZM415.6 194.9L416.2 194.9L415.7 195.8L415.0 195.8ZM421.3 194.9L421.9 194.9L421.4 195.8L420.8 195.8ZM427.0 194.9L427.6 194.9L427.2 195.8L426.5 195.8ZM432.7 194.9L433.4 194.9L432.9 195.8L432.2 195.8ZM354.8 199.2L355.5 199.2L354.8 200.0L354.1 200.0ZM360.7 199.2L361.3 199.2L360.6 200.0L360.0 200.0ZM366.5 199.2L367.2 199.2L366.5 200.0L365.8 200.0ZM372.3 199.2L373.0 199.2L372.3 200.0L371.6 200.0ZM378.1 199.2L378.8 199.2L378.1 200.1L377.5 200.0ZM384.0 199.2L384.6 199.2L384.0 200.1L383.3 200.1ZM389.8 199.1L390.5 199.1L389.8 200.1L389.2 200.1ZM395.6 199.1L396.3 199.1L395.7 200.1L395.0 200.1ZM401.4 199.1L402.1 199.1L401.5 200.1L400.8 200.1ZM407.3 199.1L407.9 199.1L407.4 200.1L406.7 200.1ZM413.1 199.1L413.8 199.1L413.2 200.1L412.5 200.1ZM418.9 199.1L419.6 199.1L419.0 200.1L418.4 200.1ZM424.7 199.1L425.4 199.1L424.9 200.1L424.2 200.1ZM430.6 199.1L431.2 199.1L430.7 200.1L430.1 200.1ZM351.0 203.5L351.7 203.5L350.9 204.5L350.2 204.5ZM357.0 203.5L357.7 203.5L356.9 204.5L356.2 204.5ZM362.9 203.5L363.6 203.5L362.9 204.5L362.2 204.5ZM368.9 203.5L369.6 203.5L368.8 204.5L368.1 204.5ZM374.8 203.5L375.5 203.5L374.8 204.5L374.1 204.5ZM380.8 203.5L381.5 203.5L380.7 204.5L380.1 204.5ZM386.7 203.5L387.4 203.5L386.7 204.5L386.0 204.5ZM392.7 203.5L393.4 203.5L392.7 204.5L392.0 204.5ZM398.6 203.5L399.3 203.5L398.6 204.5L398.0 204.5ZM404.6 203.5L405.2 203.5L404.6 204.6L403.9 204.6ZM410.5 203.5L411.2 203.5L410.6 204.6L409.9 204.6ZM416.4 203.5L417.1 203.5L416.5 204.6L415.9 204.6ZM422.4 203.5L423.1 203.5L422.5 204.6L421.8 204.6ZM428.3 203.5L429.0 203.5L428.5 204.6L427.8 204.6ZM347.0 208.1L347.7 208.1L346.9 209.1L346.2 209.1ZM353.1 208.1L353.8 208.1L353.0 209.1L352.3 209.1ZM359.2 208.1L359.9 208.1L359.1 209.2L358.4 209.2ZM365.3 208.1L366.0 208.1L365.1 209.2L364.5 209.2ZM371.3 208.1L372.0 208.1L371.2 209.2L370.6 209.2ZM377.4 208.1L378.1 208.1L377.3 209.2L376.6 209.2ZM383.5 208.1L384.2 208.1L383.4 209.2L382.7 209.2ZM389.6 208.1L390.3 208.1L389.5 209.2L388.8 209.2ZM395.6 208.1L396.3 208.1L395.6 209.2L394.9 209.2ZM401.7 208.1L402.4 208.1L401.7 209.2L401.0 209.2ZM407.8 208.1L408.5 208.1L407.8 209.3L407.1 209.3ZM413.9 208.1L414.6 208.1L413.9 209.3L413.2 209.3ZM419.9 208.1L420.6 208.1L420.0 209.3L419.3 209.3ZM426.0 208.1L426.7 208.1L426.1 209.3L425.4 209.3ZM342.9 212.9L343.6 212.9L342.6 214.0L341.9 214.0ZM349.1 212.9L349.8 212.9L348.8 214.0L348.1 214.0ZM355.3 212.9L356.0 212.9L355.1 214.1L354.4 214.1ZM361.5 212.9L362.2 212.9L361.3 214.1L360.6 214.1ZM367.7 212.9L368.4 212.9L367.5 214.1L366.8 214.1ZM373.9 212.9L374.6 212.9L373.8 214.1L373.1 214.1ZM380.1 212.9L380.8 212.9L380.0 214.1L379.3 214.1ZM386.3 212.9L387.0 212.9L386.2 214.1L385.5 214.1ZM392.5 212.9L393.2 212.9L392.5 214.2L391.8 214.1ZM398.7 212.9L399.4 212.9L398.7 214.2L398.0 214.2ZM404.9 212.9L405.6 212.9L404.9 214.2L404.2 214.2ZM411.2 212.9L411.9 212.9L411.2 214.2L410.5 214.2ZM417.4 213.0L418.1 213.0L417.4 214.2L416.7 214.2ZM423.6 213.0L424.3 213.0L423.6 214.2L422.9 214.2ZM338.5 218.0L339.2 218.0L338.1 219.2L337.4 219.2ZM344.8 218.0L345.5 218.0L344.5 219.2L343.8 219.2ZM351.2 218.0L351.9 218.0L350.9 219.2L350.2 219.2ZM357.5 218.0L358.2 218.0L357.3 219.2L356.5 219.2ZM363.9 218.0L364.6 218.0L363.6 219.2L362.9 219.2ZM370.2 218.0L370.9 218.0L370.0 219.3L369.3 219.3ZM376.6 218.0L377.3 218.0L376.4 219.3L375.7 219.3ZM382.9 218.0L383.6 218.0L382.7 219.3L382.0 219.3ZM389.3 218.0L390.0 218.0L389.1 219.3L388.4 219.3ZM395.6 218.0L396.3 218.0L395.5 219.3L394.8 219.3ZM402.0 218.0L402.7 218.0L401.9 219.4L401.2 219.4ZM408.3 218.0L409.0 218.0L408.2 219.4L407.5 219.4ZM414.7 218.0L415.4 218.0L414.6 219.4L413.9 219.4ZM421.0 218.0L421.7 218.0L421.0 219.4L420.3 219.4ZM333.8 223.3L334.5 223.3L333.4 224.6L332.7 224.6ZM340.3 223.3L341.0 223.3L340.0 224.6L339.2 224.6ZM346.8 223.3L347.5 223.3L346.5 224.6L345.8 224.6ZM353.3 223.3L354.0 223.3L353.0 224.6L352.3 224.6ZM359.8 223.3L360.5 223.3L359.5 224.7L358.8 224.7ZM366.3 223.3L367.0 223.3L366.0 224.7L365.3 224.7ZM372.8 223.3L373.5 223.3L372.6 224.7L371.9 224.7ZM379.3 223.3L380.0 223.3L379.1 224.7L378.4 224.7ZM385.8 223.3L386.5 223.3L385.6 224.8L384.9 224.8ZM392.3 223.4L393.0 223.4L392.1 224.8L391.4 224.8ZM398.8 223.4L399.5 223.4L398.7 224.8L398.0 224.8ZM405.3 223.4L406.0 223.4L405.2 224.8L404.5 224.8ZM411.8 223.4L412.5 223.4L411.7 224.9L411.0 224.9ZM418.3 223.4L419.0 223.4L418.3 224.9L417.5 224.9ZM328.9 228.9L329.7 228.9L328.5 230.3L327.7 230.3ZM335.6 228.9L336.3 228.9L335.1 230.3L334.4 230.3ZM342.3 228.9L343.0 228.9L341.8 230.3L341.1 230.3ZM348.9 228.9L349.6 228.9L348.5 230.3L347.8 230.3ZM355.6 228.9L356.3 228.9L355.2 230.4L354.5 230.4ZM362.2 228.9L363.0 228.9L361.9 230.4L361.1 230.4ZM368.9 228.9L369.6 228.9L368.6 230.4L367.8 230.4ZM375.5 229.0L376.3 229.0L375.2 230.5L374.5 230.5ZM382.2 229.0L382.9 229.0L381.9 230.5L381.2 230.5ZM388.8 229.0L389.6 229.0L388.6 230.5L387.9 230.5ZM395.5 229.0L396.2 229.0L395.3 230.6L394.6 230.6ZM402.1 229.0L402.9 229.0L402.0 230.6L401.3 230.6ZM408.8 229.0L409.5 229.0L408.7 230.6L407.9 230.6ZM415.5 229.0L416.2 229.0L415.4 230.7L414.6 230.7ZM323.8 234.8L324.5 234.8L323.2 236.3L322.5 236.3ZM330.6 234.8L331.4 234.8L330.1 236.3L329.3 236.3ZM337.4 234.8L338.2 234.8L336.9 236.3L336.2 236.3ZM344.3 234.8L345.0 234.8L343.8 236.4L343.0 236.4ZM351.1 234.8L351.8 234.8L350.6 236.4L349.9 236.4ZM357.9 234.8L358.6 234.8L357.5 236.4L356.7 236.4ZM364.7 234.9L365.5 234.9L364.3 236.5L363.6 236.5ZM371.5 234.9L372.3 234.9L371.2 236.5L370.4 236.5ZM378.4 234.9L379.1 234.9L378.0 236.6L377.3 236.6ZM385.2 234.9L385.9 234.9L384.9 236.6L384.1 236.6ZM392.0 234.9L392.7 234.9L391.7 236.6L391.0 236.6ZM398.8 234.9L399.6 234.9L398.6 236.7L397.8 236.7ZM405.6 235.0L406.4 235.0L405.4 236.7L404.7 236.7ZM412.5 235.0L413.2 235.0L412.3 236.8L411.6 236.8ZM318.4 241.0L319.1 241.0L317.7 242.6L316.9 242.6ZM325.4 241.0L326.1 241.0L324.7 242.6L324.0 242.6ZM332.4 241.0L333.1 241.0L331.7 242.7L331.0 242.7ZM339.4 241.0L340.1 241.0L338.8 242.7L338.0 242.7ZM346.3 241.1L347.1 241.1L345.8 242.8L345.0 242.8ZM353.3 241.1L354.1 241.1L352.8 242.8L352.1 242.8ZM360.3 241.1L361.1 241.1L359.8 242.9L359.1 242.9ZM367.3 241.1L368.1 241.1L366.9 242.9L366.1 242.9ZM374.3 241.2L375.1 241.2L373.9 243.0L373.2 243.0ZM381.3 241.2L382.1 241.2L380.9 243.0L380.2 243.0ZM388.3 241.2L389.1 241.2L388.0 243.1L387.2 243.1ZM395.3 241.2L396.0 241.2L395.0 243.1L394.2 243.1ZM402.3 241.2L403.0 241.3L402.0 243.2L401.3 243.1ZM409.3 241.3L410.0 241.3L409.1 243.2L408.3 243.2ZM312.6 247.5L313.4 247.5L311.8 249.3L311.1 249.3ZM319.8 247.6L320.5 247.6L319.0 249.4L318.3 249.4ZM327.0 247.6L327.7 247.6L326.3 249.4L325.5 249.4ZM334.2 247.6L334.9 247.6L333.5 249.5L332.7 249.5ZM341.3 247.7L342.1 247.7L340.7 249.5L339.9 249.5ZM348.5 247.7L349.3 247.7L347.9 249.6L347.1 249.6ZM355.7 247.7L356.4 247.7L355.1 249.6L354.3 249.6ZM362.9 247.8L363.6 247.8L362.3 249.7L361.6 249.7ZM370.0 247.8L370.8 247.8L369.5 249.8L368.8 249.7ZM377.2 247.8L378.0 247.8L376.8 249.8L376.0 249.8ZM384.4 247.8L385.2 247.8L384.0 249.9L383.2 249.9ZM391.6 247.9L392.3 247.9L391.2 249.9L390.4 249.9ZM398.8 247.9L399.5 247.9L398.4 250.0L397.6 250.0ZM405.9 247.9L406.7 247.9L405.6 250.0L404.9 250.0ZM306.5 254.5L307.3 254.5L305.6 256.4L304.8 256.4ZM313.9 254.5L314.7 254.5L313.0 256.5L312.3 256.5ZM321.3 254.6L322.0 254.6L320.4 256.6L319.7 256.5ZM328.6 254.6L329.4 254.6L327.8 256.6L327.1 256.6ZM336.0 254.6L336.8 254.7L335.3 256.7L334.5 256.7ZM343.4 254.7L344.2 254.7L342.7 256.7L341.9 256.7ZM350.8 254.7L351.5 254.7L350.1 256.8L349.3 256.8ZM358.1 254.8L358.9 254.8L357.5 256.9L356.7 256.9ZM365.5 254.8L366.3 254.8L364.9 256.9L364.1 256.9ZM372.9 254.8L373.7 254.8L372.3 257.0L371.6 257.0ZM380.3 254.9L381.0 254.9L379.7 257.1L379.0 257.1ZM387.6 254.9L388.4 254.9L387.2 257.1L386.4 257.1ZM395.0 255.0L395.8 255.0L394.6 257.2L393.8 257.2ZM402.4 255.0L403.1 255.0L402.0 257.3L401.2 257.3Z" fill="#fafbfb" stroke="#fafbfb" stroke-width="1.25" stroke-linejoin="round"/>
<path d="M300.0 261.9L300.8 261.9L299.0 264.0L298.2 264.0ZM307.6 261.9L308.4 261.9L306.6 264.0L305.8 264.0ZM315.2 262.0L316.0 262.0L314.2 264.1L313.5 264.1ZM322.8 262.0L323.6 262.0L321.9 264.2L321.1 264.2ZM330.4 262.1L331.2 262.1L329.5 264.3L328.7 264.3ZM338.0 262.1L338.7 262.1L337.1 264.4L336.3 264.3ZM345.5 262.2L346.3 262.2L344.7 264.4L344.0 264.4ZM353.1 262.2L353.9 262.2L352.4 264.5L351.6 264.5ZM360.7 262.3L361.5 262.3L360.0 264.6L359.2 264.6ZM368.3 262.3L369.1 262.3L367.6 264.7L366.8 264.7ZM375.9 262.4L376.6 262.4L375.2 264.7L374.5 264.7ZM383.4 262.4L384.2 262.4L382.9 264.8L382.1 264.8ZM391.0 262.5L391.8 262.5L390.5 264.9L389.7 264.9ZM398.6 262.5L399.4 262.5L398.1 265.0L397.3 265.0ZM293.1 269.7L293.9 269.7L292.0 272.0L291.2 272.0ZM301.0 269.8L301.7 269.8L299.8 272.1L299.0 272.1ZM308.8 269.8L309.6 269.8L307.7 272.2L306.9 272.2ZM316.6 269.9L317.4 269.9L315.5 272.3L314.7 272.3ZM324.4 270.0L325.2 270.0L323.4 272.4L322.6 272.4ZM332.2 270.0L333.0 270.0L331.2 272.5L330.4 272.4ZM340.0 270.1L340.8 270.1L339.0 272.5L338.3 272.5ZM347.8 270.1L348.6 270.1L346.9 272.6L346.1 272.6ZM355.6 270.2L356.4 270.2L354.7 272.7L354.0 272.7ZM363.4 270.3L364.2 270.3L362.6 272.8L361.8 272.8ZM371.2 270.3L372.0 270.3L370.5 272.9L369.7 272.9ZM379.0 270.4L379.8 270.4L378.3 273.0L377.5 273.0ZM386.8 270.4L387.6 270.4L386.2 273.1L385.4 273.1ZM394.6 270.5L395.4 270.5L394.0 273.2L393.2 273.2ZM285.8 278.1L286.6 278.1L284.5 280.5L283.7 280.5ZM293.9 278.1L294.7 278.1L292.6 280.6L291.7 280.6ZM301.9 278.2L302.7 278.2L300.6 280.8L299.8 280.7ZM309.9 278.3L310.7 278.3L308.7 280.9L307.9 280.9ZM318.0 278.4L318.8 278.4L316.8 281.0L316.0 281.0ZM326.0 278.4L326.8 278.4L324.9 281.1L324.1 281.1ZM334.1 278.5L334.9 278.5L333.0 281.2L332.2 281.2ZM342.1 278.6L342.9 278.6L341.1 281.3L340.3 281.3ZM350.1 278.7L350.9 278.7L349.2 281.4L348.4 281.4ZM358.2 278.7L359.0 278.7L357.3 281.5L356.5 281.5ZM366.2 278.8L367.0 278.8L365.3 281.6L364.5 281.6ZM374.2 278.9L375.0 278.9L373.4 281.7L372.6 281.7ZM382.3 279.0L383.1 279.0L381.5 281.9L380.7 281.8ZM390.3 279.0L391.1 279.0L389.6 282.0L388.8 282.0ZM278.0 287.0L278.8 287.0L276.5 289.7L275.6 289.7ZM286.3 287.0L287.1 287.1L284.8 289.8L284.0 289.8ZM294.6 287.1L295.4 287.1L293.1 289.9L292.3 289.9ZM302.9 287.2L303.7 287.2L301.5 290.1L300.7 290.0ZM311.1 287.3L312.0 287.3L309.8 290.2L309.0 290.2ZM319.4 287.4L320.3 287.4L318.2 290.3L317.3 290.3ZM327.7 287.5L328.6 287.5L326.5 290.4L325.7 290.4ZM336.0 287.6L336.8 287.6L334.8 290.6L334.0 290.6ZM344.3 287.7L345.1 287.7L343.2 290.7L342.4 290.7ZM352.6 287.8L353.4 287.8L351.5 290.8L350.7 290.8ZM360.9 287.9L361.7 287.9L359.9 291.0L359.1 290.9ZM369.2 288.0L370.0 288.0L368.2 291.1L367.4 291.1ZM377.5 288.1L378.3 288.1L376.6 291.2L375.8 291.2ZM385.7 288.1L386.6 288.2L384.9 291.3L384.1 291.3ZM269.6 296.5L270.4 296.5L267.9 299.4L267.0 299.4ZM278.1 296.6L279.0 296.6L276.5 299.6L275.6 299.6ZM286.7 296.7L287.5 296.7L285.1 299.7L284.3 299.7ZM295.3 296.8L296.1 296.8L293.7 299.9L292.9 299.9ZM303.8 296.9L304.7 296.9L302.3 300.0L301.5 300.0ZM312.4 297.0L313.2 297.0L310.9 300.2L310.1 300.2ZM321.0 297.1L321.8 297.1L319.6 300.3L318.7 300.3ZM329.5 297.2L330.4 297.3L328.2 300.5L327.3 300.5ZM338.1 297.4L338.9 297.4L336.8 300.6L336.0 300.6ZM346.6 297.5L347.5 297.5L345.4 300.8L344.6 300.8ZM355.2 297.6L356.0 297.6L354.0 300.9L353.2 300.9ZM363.7 297.7L364.6 297.7L362.7 301.1L361.8 301.1ZM372.3 297.8L373.1 297.8L371.3 301.3L370.5 301.2ZM380.8 297.9L381.7 297.9L379.9 301.4L379.1 301.4ZM260.6 306.7L261.4 306.7L258.6 309.9L257.8 309.9ZM269.4 306.8L270.3 306.8L267.5 310.1L266.7 310.1ZM278.3 306.9L279.1 306.9L276.5 310.3L275.6 310.2ZM287.1 307.1L288.0 307.1L285.4 310.4L284.5 310.4ZM296.0 307.2L296.8 307.2L294.3 310.6L293.4 310.6ZM304.8 307.3L305.7 307.3L303.2 310.8L302.3 310.8ZM313.7 307.5L314.5 307.5L312.1 311.0L311.2 311.0ZM322.5 307.6L323.4 307.6L321.0 311.2L320.2 311.1ZM331.4 307.7L332.2 307.7L329.9 311.3L329.1 311.3ZM340.2 307.9L341.1 307.9L338.8 311.5L338.0 311.5ZM349.1 308.0L349.9 308.0L347.8 311.7L346.9 311.7ZM357.9 308.1L358.8 308.1L356.7 311.9L355.8 311.9ZM366.8 308.3L367.6 308.3L365.6 312.0L364.8 312.0ZM375.6 308.4L376.5 308.4L374.5 312.2L373.7 312.2ZM250.9 317.6L251.8 317.6L248.7 321.2L247.8 321.1ZM260.1 317.8L260.9 317.8L257.9 321.4L257.1 321.3ZM269.2 317.9L270.1 317.9L267.2 321.6L266.3 321.6ZM278.4 318.1L279.3 318.1L276.4 321.8L275.5 321.8ZM287.6 318.3L288.4 318.3L285.6 322.0L284.7 322.0ZM296.7 318.4L297.6 318.4L294.8 322.2L294.0 322.2ZM305.9 318.6L306.7 318.6L304.1 322.4L303.2 322.4ZM315.0 318.7L315.9 318.8L313.3 322.6L312.4 322.6ZM324.2 318.9L325.1 318.9L322.5 322.8L321.7 322.8ZM333.4 319.1L334.2 319.1L331.8 323.1L330.9 323.0ZM342.5 319.2L343.4 319.2L341.0 323.3L340.1 323.2ZM351.7 319.4L352.5 319.4L350.2 323.5L349.4 323.5ZM360.8 319.5L361.7 319.6L359.5 323.7L358.6 323.7ZM370.0 319.7L370.8 319.7L368.7 323.9L367.8 323.9ZM240.5 329.4L241.3 329.4L238.0 333.3L237.1 333.3ZM250.0 329.6L250.8 329.6L247.5 333.5L246.7 333.5ZM259.5 329.8L260.3 329.8L257.1 333.8L256.2 333.8ZM269.0 330.0L269.8 330.0L266.7 334.0L265.8 334.0ZM278.5 330.2L279.3 330.2L276.2 334.3L275.4 334.3ZM288.0 330.4L288.8 330.4L285.8 334.5L284.9 334.5ZM297.4 330.6L298.3 330.6L295.4 334.8L294.5 334.8ZM306.9 330.7L307.8 330.8L305.0 335.0L304.1 335.0ZM316.4 330.9L317.3 331.0L314.5 335.3L313.7 335.3ZM325.9 331.1L326.8 331.2L324.1 335.5L323.2 335.5ZM335.4 331.3L336.3 331.3L333.7 335.8L332.8 335.7ZM344.9 331.5L345.8 331.5L343.3 336.0L342.4 336.0ZM354.4 331.7L355.3 331.7L352.9 336.3L352.0 336.2ZM363.9 331.9L364.8 331.9L362.4 336.5L361.6 336.5ZM229.2 342.1L230.1 342.1L226.4 346.4L225.5 346.4ZM239.0 342.4L239.9 342.4L236.3 346.7L235.4 346.7ZM248.9 342.6L249.8 342.6L246.2 347.0L245.3 347.0ZM258.7 342.8L259.7 342.8L256.2 347.3L255.3 347.3ZM268.6 343.0L269.5 343.1L266.1 347.6L265.2 347.6ZM278.5 343.3L279.4 343.3L276.1 347.9L275.1 347.8ZM288.3 343.5L289.2 343.5L286.0 348.2L285.1 348.1ZM298.2 343.7L299.1 343.8L295.9 348.5L295.0 348.4ZM308.0 344.0L308.9 344.0L305.9 348.7L305.0 348.7ZM317.9 344.2L318.8 344.2L315.8 349.0L314.9 349.0ZM327.7 344.4L328.7 344.5L325.8 349.3L324.9 349.3ZM337.6 344.7L338.5 344.7L335.7 349.6L334.8 349.6ZM347.4 344.9L348.4 344.9L345.7 349.9L344.8 349.9ZM357.3 345.1L358.2 345.2L355.6 350.2L354.7 350.2Z" fill="#fafbfb" stroke="#fafbfb" stroke-width="1.50" stroke-linejoin="round"/>
<path d="M216.9 355.9L217.8 355.9L213.7 360.6L212.8 360.6ZM227.1 356.2L228.1 356.2L224.1 361.0L223.1 361.0ZM237.4 356.5L238.3 356.5L234.4 361.3L233.5 361.3ZM247.7 356.7L248.6 356.8L244.8 361.7L243.8 361.6ZM257.9 357.0L258.9 357.0L255.1 362.0L254.2 362.0ZM268.2 357.3L269.1 357.3L265.4 362.4L264.5 362.3ZM278.4 357.6L279.4 357.6L275.8 362.7L274.9 362.7ZM288.7 357.8L289.6 357.9L286.1 363.0L285.2 363.0ZM298.9 358.1L299.9 358.2L296.5 363.4L295.5 363.4ZM309.2 358.4L310.1 358.4L306.8 363.7L305.9 363.7ZM319.4 358.7L320.4 358.7L317.2 364.1L316.3 364.1ZM329.7 359.0L330.6 359.0L327.5 364.4L326.6 364.4ZM339.9 359.2L340.8 359.3L337.9 364.8L337.0 364.7ZM350.1 359.5L351.1 359.5L348.3 365.1L347.3 365.1ZM203.5 370.9L204.5 370.9L200.0 376.1L199.0 376.1ZM214.2 371.2L215.2 371.2L210.7 376.5L209.8 376.5ZM224.9 371.5L225.9 371.6L221.5 376.9L220.6 376.9ZM235.6 371.9L236.6 371.9L232.3 377.3L231.3 377.3ZM246.3 372.2L247.2 372.2L243.1 377.7L242.1 377.7ZM257.0 372.5L257.9 372.6L253.9 378.2L252.9 378.1ZM267.6 372.9L268.6 372.9L264.6 378.6L263.7 378.5ZM278.3 373.2L279.3 373.2L275.4 379.0L274.5 378.9ZM289.0 373.5L290.0 373.6L286.2 379.4L285.3 379.3ZM299.7 373.9L300.6 373.9L297.0 379.8L296.1 379.8ZM310.4 374.2L311.3 374.2L307.8 380.2L306.8 380.2ZM321.0 374.5L322.0 374.6L318.6 380.6L317.6 380.6ZM331.7 374.9L332.7 374.9L329.4 381.0L328.4 381.0ZM342.4 375.2L343.3 375.2L340.2 381.4L339.2 381.4ZM188.9 387.2L189.9 387.2L184.9 393.0L183.9 393.0ZM200.1 387.6L201.1 387.6L196.1 393.5L195.2 393.5ZM211.2 388.0L212.2 388.0L207.4 394.0L206.4 394.0ZM222.4 388.4L223.4 388.4L218.7 394.5L217.7 394.4ZM233.6 388.8L234.5 388.8L229.9 395.0L228.9 394.9ZM244.7 389.2L245.7 389.2L241.2 395.4L240.2 395.4ZM255.9 389.6L256.8 389.6L252.4 395.9L251.5 395.9ZM267.0 390.0L268.0 390.0L263.7 396.4L262.7 396.4ZM278.2 390.4L279.1 390.4L275.0 396.9L274.0 396.8ZM289.3 390.8L290.3 390.8L286.3 397.4L285.3 397.3ZM300.4 391.2L301.4 391.2L297.5 397.8L296.5 397.8ZM311.6 391.6L312.6 391.6L308.8 398.3L307.8 398.3ZM322.7 392.0L323.7 392.1L320.1 398.8L319.1 398.8ZM333.9 392.4L334.8 392.5L331.4 399.3L330.4 399.3ZM172.9 405.1L173.9 405.1L168.3 411.6L167.3 411.5ZM184.6 405.6L185.6 405.6L180.1 412.1L179.1 412.1ZM196.2 406.0L197.2 406.1L191.9 412.7L190.8 412.7ZM207.9 406.5L208.9 406.6L203.6 413.3L202.6 413.2ZM219.6 407.0L220.6 407.0L215.4 413.9L214.4 413.8ZM231.2 407.5L232.3 407.5L227.2 414.4L226.2 414.4ZM242.9 408.0L243.9 408.0L239.0 415.0L238.0 415.0ZM254.6 408.4L255.6 408.5L250.8 415.6L249.8 415.5ZM266.2 408.9L267.3 409.0L262.6 416.2L261.6 416.1ZM277.9 409.4L278.9 409.5L274.4 416.7L273.4 416.7ZM289.6 409.9L290.6 409.9L286.2 417.3L285.2 417.3ZM301.2 410.4L302.2 410.4L298.0 417.9L297.0 417.8ZM312.9 410.9L313.9 410.9L309.9 418.4L308.8 418.4ZM324.5 411.3L325.5 411.4L321.7 419.0L320.7 419.0ZM336.2 411.8L337.2 411.9L333.5 419.6L332.5 419.5Z" fill="#fafbfb" stroke="#fafbfb" stroke-width="1.75" stroke-linejoin="round"/>
 <polygon points="356.0,186.0 363.0,189.0 326.0,244.0 275.0,310.0 235.0,359.0 203.0,404.0 194.0,420.0 130.0,432.0 250.0,300.0" fill="#7d8a8d" filter="url(#b2)" opacity=".4"/>
</g>
<!-- floor front face -->
<polygon points="151.6,415.2 343.9,424.6 344.4,428.2 147.4,418.7" fill="#b4bec1"/>
<polyline points="151.6,415.2 343.9,424.6" stroke="#e3e8ea" stroke-width="1" fill="none"/>
<polyline points="147.4,418.7 344.4,428.2" stroke="#9aa5a8" stroke-width="1" fill="none"/>
<!-- left wall -->
<polygon points="140.6,381.3 357.4,169.6 358.0,189.8 258.0,303.0 151.6,415.2" fill="url(#gLWbase)"/>
<g clip-path="url(#cLW)">
 <polygon points="146.2,398.0 357.6,179.2 358.0,189.8 258.0,303.0 151.6,415.2" fill="url(#gLWlow)"/>
 <polygon points="149.5,409.0 357.9,186.5 358.0,189.8 258.0,303.0 151.6,415.2" fill="#3d4a4d" opacity=".14"/>
<path d="M354.6 190.4L353.4 191.5" stroke="#dfe6e8" stroke-width="1.9" stroke-linecap="round" opacity="0.05" filter="url(#b1)"/>
<path d="M350.9 194.5L349.7 195.7" stroke="#dfe6e8" stroke-width="2.0" stroke-linecap="round" opacity="0.06" filter="url(#b1)"/>
<path d="M347.0 198.8L345.7 200.0" stroke="#dfe6e8" stroke-width="2.0" stroke-linecap="round" opacity="0.07" filter="url(#b1)"/>
<path d="M343.0 203.3L341.6 204.6" stroke="#dfe6e8" stroke-width="2.0" stroke-linecap="round" opacity="0.07" filter="url(#b1)"/>
<path d="M338.7 208.0L337.3 209.4" stroke="#dfe6e8" stroke-width="2.1" stroke-linecap="round" opacity="0.08" filter="url(#b1)"/>
<path d="M334.3 212.9L332.8 214.4" stroke="#dfe6e8" stroke-width="2.1" stroke-linecap="round" opacity="0.09" filter="url(#b1)"/>
<path d="M329.6 218.1L328.0 219.7" stroke="#dfe6e8" stroke-width="2.2" stroke-linecap="round" opacity="0.10" filter="url(#b1)"/>
<path d="M324.7 223.6L323.0 225.2" stroke="#dfe6e8" stroke-width="2.2" stroke-linecap="round" opacity="0.11" filter="url(#b1)"/>
<path d="M319.5 229.4L317.8 231.1" stroke="#dfe6e8" stroke-width="2.2" stroke-linecap="round" opacity="0.12" filter="url(#b1)"/>
<path d="M314.0 235.5L312.2 237.3" stroke="#dfe6e8" stroke-width="2.3" stroke-linecap="round" opacity="0.13" filter="url(#b1)"/>
<path d="M308.3 241.9L306.3 243.8" stroke="#dfe6e8" stroke-width="2.3" stroke-linecap="round" opacity="0.14" filter="url(#b1)"/>
<path d="M302.1 248.7L300.1 250.7" stroke="#dfe6e8" stroke-width="2.4" stroke-linecap="round" opacity="0.15" filter="url(#b1)"/>
<path d="M295.6 255.9L293.4 258.1" stroke="#dfe6e8" stroke-width="2.5" stroke-linecap="round" opacity="0.16" filter="url(#b1)"/>
<path d="M288.8 263.6L286.4 265.9" stroke="#dfe6e8" stroke-width="2.5" stroke-linecap="round" opacity="0.17" filter="url(#b1)"/>
<path d="M281.4 271.7L278.9 274.2" stroke="#dfe6e8" stroke-width="2.6" stroke-linecap="round" opacity="0.19" filter="url(#b1)"/>
<path d="M273.6 280.4L270.9 283.0" stroke="#dfe6e8" stroke-width="2.6" stroke-linecap="round" opacity="0.20" filter="url(#b1)"/>
<path d="M265.3 289.7L262.4 292.5" stroke="#dfe6e8" stroke-width="2.7" stroke-linecap="round" opacity="0.22" filter="url(#b1)"/>
<path d="M256.2 299.7L253.1 302.7" stroke="#dfe6e8" stroke-width="2.8" stroke-linecap="round" opacity="0.23" filter="url(#b1)"/>
<path d="M245.9 310.3L242.5 313.6" stroke="#dfe6e8" stroke-width="2.9" stroke-linecap="round" opacity="0.25" filter="url(#b1)"/>
<path d="M234.8 321.8L231.2 325.3" stroke="#dfe6e8" stroke-width="3.0" stroke-linecap="round" opacity="0.27" filter="url(#b1)"/>
<path d="M222.8 334.2L218.9 338.0" stroke="#dfe6e8" stroke-width="3.1" stroke-linecap="round" opacity="0.29" filter="url(#b1)"/>
<path d="M209.9 347.6L205.6 351.8" stroke="#dfe6e8" stroke-width="3.2" stroke-linecap="round" opacity="0.31" filter="url(#b1)"/>
<path d="M195.8 362.2L191.2 366.7" stroke="#dfe6e8" stroke-width="3.3" stroke-linecap="round" opacity="0.34" filter="url(#b1)"/>
<path d="M180.5 378.1L175.4 383.0" stroke="#dfe6e8" stroke-width="3.4" stroke-linecap="round" opacity="0.36" filter="url(#b1)"/>
<path d="M163.7 395.5L158.2 400.9" stroke="#dfe6e8" stroke-width="3.6" stroke-linecap="round" opacity="0.39" filter="url(#b1)"/>
<path d="M354.0 179.5L353.1 180.4" stroke="#dfe6e8" stroke-width="1.9" stroke-linecap="round" opacity="0.02" filter="url(#b1)"/>
<path d="M350.2 183.5L349.3 184.4" stroke="#dfe6e8" stroke-width="2.0" stroke-linecap="round" opacity="0.02" filter="url(#b1)"/>
<path d="M346.2 187.6L345.3 188.6" stroke="#dfe6e8" stroke-width="2.0" stroke-linecap="round" opacity="0.03" filter="url(#b1)"/>
<path d="M342.1 192.0L341.1 193.0" stroke="#dfe6e8" stroke-width="2.0" stroke-linecap="round" opacity="0.03" filter="url(#b1)"/>
<path d="M337.7 196.5L336.6 197.6" stroke="#dfe6e8" stroke-width="2.1" stroke-linecap="round" opacity="0.03" filter="url(#b1)"/>
<path d="M333.1 201.3L332.0 202.4" stroke="#dfe6e8" stroke-width="2.1" stroke-linecap="round" opacity="0.04" filter="url(#b1)"/>
<path d="M328.3 206.4L327.1 207.5" stroke="#dfe6e8" stroke-width="2.2" stroke-linecap="round" opacity="0.04" filter="url(#b1)"/>
<path d="M323.2 211.7L322.0 212.9" stroke="#dfe6e8" stroke-width="2.2" stroke-linecap="round" opacity="0.04" filter="url(#b1)"/>
<path d="M317.9 217.2L316.6 218.5" stroke="#dfe6e8" stroke-width="2.2" stroke-linecap="round" opacity="0.05" filter="url(#b1)"/>
<path d="M312.2 223.1L310.8 224.5" stroke="#dfe6e8" stroke-width="2.3" stroke-linecap="round" opacity="0.05" filter="url(#b1)"/>
<path d="M306.3 229.4L304.8 230.8" stroke="#dfe6e8" stroke-width="2.3" stroke-linecap="round" opacity="0.05" filter="url(#b1)"/>
<path d="M300.0 235.9L298.4 237.5" stroke="#dfe6e8" stroke-width="2.4" stroke-linecap="round" opacity="0.06" filter="url(#b1)"/>
<path d="M293.3 242.9L291.6 244.5" stroke="#dfe6e8" stroke-width="2.5" stroke-linecap="round" opacity="0.06" filter="url(#b1)"/>
<path d="M286.2 250.3L284.4 252.1" stroke="#dfe6e8" stroke-width="2.5" stroke-linecap="round" opacity="0.07" filter="url(#b1)"/>
<path d="M278.6 258.2L276.7 260.1" stroke="#dfe6e8" stroke-width="2.6" stroke-linecap="round" opacity="0.07" filter="url(#b1)"/>
<path d="M270.5 266.7L268.5 268.6" stroke="#dfe6e8" stroke-width="2.6" stroke-linecap="round" opacity="0.08" filter="url(#b1)"/>
<path d="M261.9 275.6L259.8 277.7" stroke="#dfe6e8" stroke-width="2.7" stroke-linecap="round" opacity="0.09" filter="url(#b1)"/>
<path d="M252.5 285.3L250.2 287.5" stroke="#dfe6e8" stroke-width="2.8" stroke-linecap="round" opacity="0.09" filter="url(#b1)"/>
<path d="M241.9 295.6L239.4 298.0" stroke="#dfe6e8" stroke-width="2.9" stroke-linecap="round" opacity="0.10" filter="url(#b1)"/>
<path d="M230.5 306.7L227.8 309.3" stroke="#dfe6e8" stroke-width="3.0" stroke-linecap="round" opacity="0.11" filter="url(#b1)"/>
<path d="M218.1 318.7L215.2 321.5" stroke="#dfe6e8" stroke-width="3.1" stroke-linecap="round" opacity="0.12" filter="url(#b1)"/>
<path d="M204.8 331.7L201.6 334.8" stroke="#dfe6e8" stroke-width="3.2" stroke-linecap="round" opacity="0.12" filter="url(#b1)"/>
<path d="M190.3 345.8L186.8 349.2" stroke="#dfe6e8" stroke-width="3.3" stroke-linecap="round" opacity="0.13" filter="url(#b1)"/>
<path d="M174.5 361.2L170.7 364.9" stroke="#dfe6e8" stroke-width="3.4" stroke-linecap="round" opacity="0.15" filter="url(#b1)"/>
<path d="M157.2 378.0L153.0 382.1" stroke="#dfe6e8" stroke-width="3.6" stroke-linecap="round" opacity="0.16" filter="url(#b1)"/>
<path d="M354.5 185.0L353.1 186.3" stroke="#1b2325" stroke-width="0.8" stroke-linecap="round" opacity="0.90"/>
<path d="M350.8 189.0L349.3 190.4" stroke="#1b2325" stroke-width="0.8" stroke-linecap="round" opacity="0.90"/>
<path d="M346.9 193.2L345.3 194.7" stroke="#1b2325" stroke-width="0.8" stroke-linecap="round" opacity="0.90"/>
<path d="M342.8 197.6L341.1 199.2" stroke="#1b2325" stroke-width="0.9" stroke-linecap="round" opacity="0.90"/>
<path d="M338.5 202.3L336.8 203.9" stroke="#1b2325" stroke-width="0.9" stroke-linecap="round" opacity="0.90"/>
<path d="M334.0 207.1L332.2 208.9" stroke="#1b2325" stroke-width="0.9" stroke-linecap="round" opacity="0.90"/>
<path d="M329.2 212.2L327.3 214.1" stroke="#1b2325" stroke-width="0.9" stroke-linecap="round" opacity="0.90"/>
<path d="M324.3 217.6L322.3 219.5" stroke="#1b2325" stroke-width="0.9" stroke-linecap="round" opacity="0.90"/>
<path d="M319.0 223.3L316.9 225.3" stroke="#1b2325" stroke-width="0.9" stroke-linecap="round" opacity="0.90"/>
<path d="M313.5 229.2L311.2 231.4" stroke="#1b2325" stroke-width="1.0" stroke-linecap="round" opacity="0.90"/>
<path d="M307.6 235.6L305.3 237.8" stroke="#1b2325" stroke-width="1.0" stroke-linecap="round" opacity="0.90"/>
<path d="M301.4 242.2L298.9 244.7" stroke="#1b2325" stroke-width="1.0" stroke-linecap="round" opacity="0.90"/>
<path d="M294.9 249.3L292.2 251.9" stroke="#1b2325" stroke-width="1.0" stroke-linecap="round" opacity="0.90"/>
<path d="M287.9 256.8L285.1 259.6" stroke="#1b2325" stroke-width="1.0" stroke-linecap="round" opacity="0.90"/>
<path d="M280.5 264.9L277.5 267.8" stroke="#1b2325" stroke-width="1.1" stroke-linecap="round" opacity="0.90"/>
<path d="M272.6 273.4L269.3 276.5" stroke="#1b2325" stroke-width="1.1" stroke-linecap="round" opacity="0.90"/>
<path d="M264.1 282.5L260.7 285.8" stroke="#1b2325" stroke-width="1.1" stroke-linecap="round" opacity="0.90"/>
<path d="M254.9 292.3L251.2 295.8" stroke="#1b2325" stroke-width="1.2" stroke-linecap="round" opacity="0.90"/>
<path d="M244.5 302.7L240.5 306.6" stroke="#1b2325" stroke-width="1.2" stroke-linecap="round" opacity="0.90"/>
<path d="M233.3 314.0L229.0 318.2" stroke="#1b2325" stroke-width="1.2" stroke-linecap="round" opacity="0.90"/>
<path d="M221.2 326.2L216.5 330.7" stroke="#1b2325" stroke-width="1.3" stroke-linecap="round" opacity="0.90"/>
<path d="M208.1 339.3L203.0 344.2" stroke="#1b2325" stroke-width="1.3" stroke-linecap="round" opacity="0.90"/>
<path d="M193.9 353.6L188.4 359.0" stroke="#1b2325" stroke-width="1.4" stroke-linecap="round" opacity="0.90"/>
<path d="M178.4 369.2L172.3 375.1" stroke="#1b2325" stroke-width="1.4" stroke-linecap="round" opacity="0.90"/>
<path d="M161.5 386.2L154.8 392.7" stroke="#1b2325" stroke-width="1.5" stroke-linecap="round" opacity="0.90"/>
</g>
<polygon points="139.8,380.6 357.0,169.0 357.9,170.0 142.2,383.4" fill="#cdd5d8"/>
<polygon points="139.6,381.0 142.8,380.2 150.2,416.2 147.2,419.0" fill="#c9d1d4"/>
<polyline points="142.3,383.5 148.6,415.5" stroke="#2f383a" stroke-width="1.1" fill="none"/>
<!-- right wall: inner lip, dark line, outer face -->
<polygon points="448.7,171.5 436.7,190.3 415.4,230.0 350.5,364.0 337.2,391.5 340.4,390.5" fill="#bcc5c8"/>
<polygon points="448.7,171.5 449.6,172.6 450.0,190.0 384.2,340.0 361.0,400.0 348.0,424.0 344.4,428.2 340.4,390.5" fill="url(#gRW)"/>
<path d="M449.1 180.7L448.4 182.4" stroke="#2a3234" stroke-width="0.7" stroke-linecap="round" opacity=".85"/>
<path d="M447.3 184.6L446.6 186.3" stroke="#2a3234" stroke-width="0.7" stroke-linecap="round" opacity=".85"/>
<path d="M445.4 188.6L444.6 190.5" stroke="#2a3234" stroke-width="0.7" stroke-linecap="round" opacity=".85"/>
<path d="M443.4 192.9L442.6 194.8" stroke="#2a3234" stroke-width="0.8" stroke-linecap="round" opacity=".85"/>
<path d="M441.3 197.3L440.5 199.4" stroke="#2a3234" stroke-width="0.8" stroke-linecap="round" opacity=".85"/>
<path d="M439.1 202.0L438.2 204.1" stroke="#2a3234" stroke-width="0.8" stroke-linecap="round" opacity=".85"/>
<path d="M436.8 206.9L435.9 209.2" stroke="#2a3234" stroke-width="0.8" stroke-linecap="round" opacity=".85"/>
<path d="M434.4 212.1L433.4 214.4" stroke="#2a3234" stroke-width="0.8" stroke-linecap="round" opacity=".85"/>
<path d="M431.9 217.6L430.8 220.0" stroke="#2a3234" stroke-width="0.9" stroke-linecap="round" opacity=".85"/>
<path d="M429.2 223.3L428.0 225.9" stroke="#2a3234" stroke-width="0.9" stroke-linecap="round" opacity=".85"/>
<path d="M426.3 229.4L425.1 232.1" stroke="#2a3234" stroke-width="0.9" stroke-linecap="round" opacity=".85"/>
<path d="M423.3 235.8L422.0 238.7" stroke="#2a3234" stroke-width="0.9" stroke-linecap="round" opacity=".85"/>
<path d="M420.1 242.6L418.8 245.7" stroke="#2a3234" stroke-width="1.0" stroke-linecap="round" opacity=".85"/>
<path d="M416.7 249.8L415.3 253.1" stroke="#2a3234" stroke-width="1.0" stroke-linecap="round" opacity=".85"/>
<path d="M413.1 257.5L411.6 261.0" stroke="#2a3234" stroke-width="1.0" stroke-linecap="round" opacity=".85"/>
<path d="M409.3 265.7L407.6 269.4" stroke="#2a3234" stroke-width="1.1" stroke-linecap="round" opacity=".85"/>
<path d="M405.2 274.4L403.4 278.4" stroke="#2a3234" stroke-width="1.1" stroke-linecap="round" opacity=".85"/>
<path d="M400.8 283.8L398.9 288.1" stroke="#2a3234" stroke-width="1.2" stroke-linecap="round" opacity=".85"/>
<path d="M396.0 293.8L394.0 298.5" stroke="#2a3234" stroke-width="1.2" stroke-linecap="round" opacity=".85"/>
<path d="M391.0 304.6L388.8 309.6" stroke="#2a3234" stroke-width="1.3" stroke-linecap="round" opacity=".85"/>
<path d="M385.5 316.3L383.2 321.7" stroke="#2a3234" stroke-width="1.3" stroke-linecap="round" opacity=".85"/>
<path d="M379.6 328.9L377.1 334.7" stroke="#2a3234" stroke-width="1.4" stroke-linecap="round" opacity=".85"/>
<path d="M373.2 342.6L370.4 348.9" stroke="#2a3234" stroke-width="1.4" stroke-linecap="round" opacity=".85"/>
<path d="M366.2 357.5L363.2 364.4" stroke="#2a3234" stroke-width="1.5" stroke-linecap="round" opacity=".85"/>
<path d="M358.5 373.8L355.2 381.3" stroke="#2a3234" stroke-width="1.6" stroke-linecap="round" opacity=".85"/>
<path d="M350.1 391.6L346.5 400.0" stroke="#2a3234" stroke-width="1.6" stroke-linecap="round" opacity=".85"/>
<polyline points="448.7,171.5 340.4,390.5" stroke="#566063" stroke-width="1" fill="none"/>
<polyline points="340.4,390.5 344.2,427.0" stroke="#20282a" stroke-width="1.3" fill="none"/>
<polyline points="450.0,190.0 384.2,340.0 361.0,400.0 348.0,424.0 344.4,428.2" stroke="#aab4b7" stroke-width="1" fill="none"/>

<!-- RIGHT TRAY -->
<!-- bracket -->
<polygon points="473.7,177.1 487.6,177.0 495.2,211.8 480.8,213.0" fill="url(#gBr)"/>
<polygon points="480.8,213.0 495.2,211.8 495.4,213.6 481.2,214.8" fill="#768285"/>
<polygon points="478.3,186.6 486.3,186.5 487.0,190.2 479.1,190.4" fill="#717d80"/>
<polygon points="481.5,196.4 489.9,196.2 490.7,200.6 482.5,200.9" fill="#717d80"/>
<path d="M479.1 190.4L487.0 190.2M482.5 200.9L490.7 200.6" stroke="#d0d7da" stroke-width="1"/>
<path d="M478.3 186.9L486.3 186.8M481.5 196.7L489.9 196.5" stroke="#525e60" stroke-width="1"/>
<!-- connector leg -->
<polygon points="493.8,199.2 497.6,200.5 498.2,226.6 494.6,225.2" fill="#7d898b"/>
<polygon points="496.6,200.5 497.6,200.5 498.2,226.6 497.2,226.2" fill="#5f6b6d"/>
<!-- left side band -->
<polygon points="497.3,200.6 559.8,388.4 559.8,430.8 540.0,374.0 501.6,240.6 495.5,218.0" fill="url(#gSide)"/>
<path d="M550.2 377.4l2.0 7.4M555.0 395.2l2.6 7.8" stroke="#3f4a4c" stroke-width="1.5" stroke-linecap="round"/>
<!-- cover top -->
<polygon points="497.2,200.4 612.8,199.6 775.4,383.4 559.8,388.4" fill="url(#gCover)"/>
<polyline points="497.2,200.4 559.8,388.4" stroke="#8fa0a3" stroke-width="1" fill="none"/>
<!-- connector -->
<polygon points="484.3,165.7 493.7,197.3 494.3,200.6 485.2,172.5" fill="#aeb9bb"/>
<polygon points="493.7,197.3 614.6,196.1 613.6,200.4 494.6,201.2" fill="#4d5d5f"/>
<polygon points="484.3,165.7 586.4,165.1 614.6,196.1 493.7,197.3" fill="url(#gConn)"/>
<polyline points="493.7,197.5 614.6,196.3" stroke="#a9b8bb" stroke-width="1.3" fill="none"/>
<polyline points="484.6,166.2 586.4,165.6" stroke="#56676a" stroke-width="1" fill="none"/>
<!-- front opening -->
<polygon points="559.8,388.4 775.4,383.6 776.0,385.4 774.2,392.8 771.6,392.6 764.2,428.0 559.8,430.8" fill="#b6c5c9"/>
<polygon points="566.8,391.4 765.2,387.2 758.8,424.0 565.6,427.4" fill="url(#gInt)"/>
<polygon points="729.0,388.0 765.2,387.2 758.8,424.0 752.5,418.0" fill="#617477"/>
<polygon points="561.3,391.6 566.8,391.4 565.6,428.0 562.6,428.1" fill="#c3d0d4"/>
<polyline points="564.2,393.2 563.4,426.5" stroke="#1f2829" stroke-width="1.2" fill="none"/>
<polygon points="765.2,387.2 771.0,387.0 762.8,427.6 758.8,424.0" fill="#c3d0d4"/>
<polyline points="768.8,389.0 761.6,424.6" stroke="#1f2829" stroke-width="1.6" fill="none"/>
<path d="M749.5 391.6l6.5 8.6" stroke="#a9b7ba" stroke-width="1.2" stroke-linecap="round"/>
<path d="M750.3 391.6l6.5 8.6" stroke="#2c3638" stroke-width=".8" stroke-linecap="round"/>
<polyline points="559.8,388.9 775.4,384.1" stroke="#c9d6d9" stroke-width="1.2" fill="none"/>

<!-- watermarks -->
<g font-family="'Liberation Sans','DejaVu Sans',sans-serif" font-weight="bold">
<text x="287" y="282.2" font-size="27" textLength="100.5" lengthAdjust="spacingAndGlyphs" fill="#8cc6ec" opacity=".55" stroke="#8cc6ec" stroke-width="1" stroke-linejoin="round">УЗЭМИ</text>
<text x="548.6" y="283.8" font-size="29" textLength="102" lengthAdjust="spacingAndGlyphs" fill="#3f8fb8" opacity=".5" stroke="#3f8fb8" stroke-width="1.4" stroke-linejoin="round">УЗЭМИ</text>
</g>

<!-- label connectors -->
<rect x="400" y="40" width="5" height="5" fill="#3584e4"/>
<rect x="402" y="45" width="1" height="94" fill="#3584e4"/>
<rect x="357" y="139" width="92" height="1" fill="#3584e4"/>
<rect x="357" y="139" width="1" height="28" fill="#3584e4"/>
<rect x="448" y="139" width="1" height="30" fill="#3584e4"/>
<rect x="293" y="95" width="5" height="5" fill="#3584e4"/>
<rect x="295" y="100" width="1" height="121" fill="#3584e4"/>
<rect x="218" y="170" width="5" height="5" fill="#3584e4"/>
<rect x="220" y="175" width="1" height="121" fill="#3584e4"/>
<rect x="535" y="40" width="5" height="5" fill="#3584e4"/>
<rect x="537" y="45" width="1" height="94" fill="#3584e4"/>
<rect x="495" y="139" width="82" height="1" fill="#3584e4"/>
<rect x="495" y="139" width="1" height="22" fill="#3584e4"/>
<rect x="576" y="139" width="1" height="23" fill="#3584e4"/>
<rect x="633" y="95" width="5" height="5" fill="#3584e4"/>
<rect x="635" y="100" width="1" height="120" fill="#3584e4"/>
<rect x="700" y="170" width="5" height="5" fill="#3584e4"/>
<rect x="702" y="175" width="1" height="120" fill="#3584e4"/>
<g font-family="'Liberation Sans','DejaVu Sans',sans-serif" font-size="14.8" fill="#2a2a2a" stroke="#2a2a2a" stroke-width=".2">
<text x="232.6" y="46" textLength="158.7" lengthAdjust="spacing">Интегрированная рама</text>
<text x="156.3" y="100.8" textLength="127" lengthAdjust="spacing">Сдвоенные стенки</text>
<text x="33.8" y="176.2" textLength="176.7" lengthAdjust="spacing">Тройной запас прочности</text>
<text x="546.8" y="46" textLength="182" lengthAdjust="spacing">Защищенный соединитель</text>
<text x="647.5" y="100.8" textLength="148.7" lengthAdjust="spacing">Три вида исполнения</text>
<text x="714.3" y="176.2" textLength="163.2" lengthAdjust="spacing">Высокая защита кабеля</text>
</g>

<!-- 4wall logo -->
<g>
<g fill="#3f8be2">
<rect x="477.4" y="35.6" width="3.6" height="24"/><rect x="484.1" y="35.6" width="3.9" height="24"/>
<rect x="471.5" y="73" width="3.7" height="23.2"/><rect x="477.4" y="73" width="3.6" height="23.2"/><rect x="484.1" y="73" width="3.9" height="23.2"/>
</g>
<path d="M462.4 35.6H472V61.4H488.2V69.6H472V80.6H462.2V69.6H440.6V61.2ZM462.2 45.2L449.8 61.4H462.2Z" fill="#f6e93a" stroke="#161616" stroke-width="1.2" stroke-linejoin="miter" fill-rule="evenodd"/>
<text x="441.6" y="96.6" font-family="'Liberation Sans','DejaVu Sans',sans-serif" font-weight="bold" font-size="23" fill="#3f8be2" textLength="27.8" lengthAdjust="spacingAndGlyphs" stroke="#3f8be2" stroke-width=".8">wa</text>
<text transform="translate(500.3 97) rotate(-90)" font-family="'Liberation Sans','DejaVu Sans',sans-serif" font-weight="bold" font-size="11.5" fill="#3f8be2" stroke="#3f8be2" stroke-width=".3" textLength="60.5" lengthAdjust="spacingAndGlyphs">technology</text>
</g>

<!-- SUPER STRONG -->
<rect x="75" y="211" width="61" height="24" fill="#3d87dd"/>
<text x="80.2" y="231.2" font-family="'Liberation Sans','DejaVu Sans',sans-serif" font-weight="bold" font-size="21.5" fill="#fff" stroke="#fff" stroke-width="1.1" stroke-linejoin="round" textLength="51.4" lengthAdjust="spacingAndGlyphs">SUPER</text>
<text x="75" y="249.8" font-family="'DejaVu Sans','Liberation Sans',sans-serif" font-weight="bold" font-size="13.4" fill="#3d87dd" stroke="#3d87dd" stroke-width=".3" textLength="61" lengthAdjust="spacingAndGlyphs">STRONG</text>
<polygon points="83.7,254.6 86.2,260.7 92.8,261.2 87.8,265.5 89.3,272.0 83.7,268.5 78.1,272.0 79.6,265.5 74.6,261.2 81.2,260.7" fill="#f6e93c" stroke="#3a3a30" stroke-width="1" stroke-linejoin="miter"/>
<polygon points="104.6,254.6 107.1,260.7 113.7,261.2 108.7,265.5 110.2,272.0 104.6,268.5 99.0,272.0 100.5,265.5 95.5,261.2 102.1,260.7" fill="#f6e93c" stroke="#3a3a30" stroke-width="1" stroke-linejoin="miter"/>
<polygon points="126.0,254.6 128.5,260.7 135.1,261.2 130.1,265.5 131.6,272.0 126.0,268.5 120.4,272.0 121.9,265.5 116.9,261.2 123.5,260.7" fill="#f6e93c" stroke="#3a3a30" stroke-width="1" stroke-linejoin="miter"/>

<!-- HIGH SAFE -->
<rect x="774" y="211" width="62" height="62" rx="4.5" fill="#3d87dd"/>
<rect x="777.6" y="214.6" width="54.8" height="54.8" rx="3" fill="none" stroke="#fff" stroke-width="1.4"/>
<g font-family="'DejaVu Sans','Liberation Sans',sans-serif" font-weight="bold" fill="#fff">
<text x="783.4" y="231.6" font-size="15.2" stroke="#fff" stroke-width=".3" textLength="42.6" lengthAdjust="spacingAndGlyphs">HIGH</text>
<text x="783.8" y="264.3" font-size="16" textLength="42.4" lengthAdjust="spacingAndGlyphs">SAFE</text>
</g>
<circle cx="805" cy="241.8" r="6.2" fill="#f4f6f8"/>
<circle cx="805" cy="241.8" r="4.6" fill="none" stroke="#3a3f45" stroke-width="1.6" stroke-dasharray="1.2 1.2"/>
<circle cx="805" cy="241.8" r="3.1" fill="#23262a"/>
</svg>
</body></html>
